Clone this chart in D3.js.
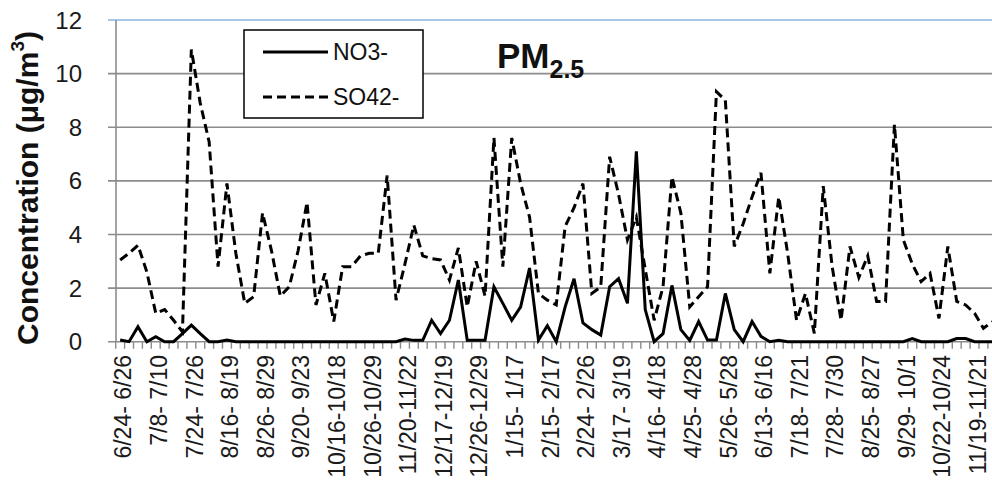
<!DOCTYPE html>
<html>
<head>
<meta charset="utf-8">
<script src="https://cdn.jsdelivr.net/npm/d3@7"></script>
<style>
  body { margin: 0; background: #fff; }
  svg { display: block; font-family: "Liberation Sans", Arial, sans-serif; }
</style>
</head>
<body>
<svg id="chart" width="992" height="488"></svg>
<script>
// category labels shown on the axis (every 4th sampling period)
const tickLabels = ["6/24- 6/26", "7/8- 7/10", "7/24- 7/26", "8/16- 8/19", "8/26- 8/29",
  "9/20- 9/23", "10/16-10/18", "10/26-10/29", "11/20-11/22", "12/17-12/19",
  "12/26-12/29", "1/15- 1/17", "2/15- 2/17", "2/24- 2/26", "3/17- 3/19",
  "4/16- 4/18", "4/25- 4/28", "5/26- 5/28", "6/13- 6/16", "7/18- 7/21",
  "7/28- 7/30", "8/25- 8/27", "9/29- 10/1", "10/22-10/24", "11/19-11/21"];
const labelEvery = 4;

// NO3- concentration per sampling period
const no3 = [0.06, 0, 0.56, 0, 0.19, 0, 0, 0.3, 0.62, 0.3,
  0, 0, 0.06, 0, 0, 0, 0, 0, 0, 0,
  0, 0, 0, 0, 0, 0, 0, 0, 0, 0,
  0, 0, 0.1, 0.05, 0.05, 0.8, 0.3, 0.8, 2.3, 0.05,
  0.05, 0.05, 2.05, 1.43, 0.8, 1.3, 2.75, 0.06, 0.6, 0,
  1.3, 2.35, 0.7, 0.45, 0.25, 2.05, 2.35, 1.43, 7.1, 1.2,
  0, 0.3, 2.1, 0.45, 0.05, 0.75, 0.06, 0.06, 1.8, 0.45,
  0, 0.75, 0.2, 0, 0.05, 0, 0, 0, 0, 0,
  0, 0, 0, 0, 0, 0, 0, 0, 0, 0.12,
  0, 0, 0, 0, 0.12, 0.12, 0, 0, 0];

// SO42- concentration per sampling period
const so4 = [3.05, 3.3, 3.6, 2.6, 1.06, 1.2, 0.8, 0.37, 10.9, 8.9,
  7.45, 2.8, 5.9, 3.3, 1.43, 1.68, 4.8, 3.4, 1.7, 2.05,
  3.4, 5.2, 1.37, 2.55, 0.75, 2.8, 2.8, 3.2, 3.3, 3.3,
  6.2, 1.55, 2.9, 4.35, 3.2, 3.1, 3.05, 2.3, 3.5, 1.3,
  3.0, 1.7, 7.6, 2.8, 7.6, 5.9, 4.65, 1.8, 1.55, 1.37,
  4.3, 5.0, 5.9, 1.8, 2.05, 6.9, 5.5, 3.8, 4.65, 2.7,
  0.8, 2.05, 6.15, 4.8, 1.3, 1.68, 2.05, 9.33, 9.0, 3.55,
  4.4, 5.4, 6.3, 2.55, 5.4, 3.3, 0.8, 1.8, 0.31, 5.8,
  2.8, 0.8, 3.55, 2.4, 3.2, 1.5, 1.5, 8.1, 3.8, 2.9,
  2.24, 2.55, 0.87, 3.55, 1.5, 1.37, 1.06, 0.5, 0.75];

const yTicks = [0, 2, 4, 6, 8, 10, 12];
const seriesNames = ["NO3-", "SO42-"];

const svg = d3.select("#chart");
const cats = d3.range(so4.length);

// plot runs past the right edge of the picture (the original is cropped)
const x = d3.scaleBand().domain(cats).range([115.7, 115.7 + 8.9 * cats.length]).padding(0);
const y = d3.scaleLinear().domain([0, 12]).range([341.7, 20]);
const cx = i => x(i) + x.bandwidth() / 2;

const grid = "#8c8c8c";

//gridlines
svg.append("g")
  .selectAll("line")
  .data(yTicks)
  .join("line")
  .attr("x1", 108).attr("x2", 992)
  .attr("y1", d => y(d)).attr("y2", d => y(d))
  .attr("stroke", d => d === 12 ? "#8db3e2" : grid)
  .attr("stroke-width", 1.6);

//y axis line
svg.append("line")
  .attr("x1", 116).attr("x2", 116)
  .attr("y1", y(12)).attr("y2", y(0))
  .attr("stroke", grid).attr("stroke-width", 1.6);

//y tick labels
svg.append("g")
  .selectAll("text")
  .data(yTicks)
  .join("text")
  .attr("x", 82)
  .attr("y", d => y(d))
  .attr("dy", "0.36em")
  .attr("text-anchor", "end")
  .attr("font-size", 24)
  .attr("fill", "#1a1a1a")
  .text(d => d);

//x tick marks at category boundaries
svg.append("g")
  .selectAll("line")
  .data(cats)
  .join("line")
  .attr("x1", d => x(d)).attr("x2", d => x(d))
  .attr("y1", y(0)).attr("y2", y(0) + 7)
  .attr("stroke", grid).attr("stroke-width", 1.4);

//x labels
svg.append("g")
  .selectAll("text")
  .data(tickLabels)
  .join("text")
  .attr("transform", (d, k) => `translate(${cx(k * labelEvery) + 3},355) rotate(-90)`)
  .attr("dy", "0.36em")
  .attr("text-anchor", "end")
  .attr("font-size", 23)
  .attr("fill", "#1a1a1a")
  .text(d => d);

//y axis title
const yt = svg.append("text")
  .attr("transform", "translate(27,188) rotate(-90)")
  .attr("dy", "0.36em")
  .attr("text-anchor", "middle")
  .attr("font-size", 30)
  .attr("font-weight", "bold")
  .attr("fill", "#111")
  .text("Concentration (\u03bcg/m");
yt.append("tspan").attr("font-size", 19).attr("dy", "-0.75em").text("3");
yt.append("tspan").attr("dy", "0.45em").text(")");

//series lines
const line = d3.line().x((d, i) => cx(i)).y(d => y(d));

svg.append("path")
  .datum(so4)
  .attr("d", line)
  .attr("fill", "none")
  .attr("stroke", "#000")
  .attr("stroke-width", 3)
  .attr("stroke-dasharray", "9,5");

svg.append("path")
  .datum(no3)
  .attr("d", line)
  .attr("fill", "none")
  .attr("stroke", "#000")
  .attr("stroke-width", 3);

//legend
const lg = svg.append("g");
lg.append("rect")
  .attr("x", 244).attr("y", 30).attr("width", 179).attr("height", 88)
  .attr("fill", "#fff").attr("stroke", "#000").attr("stroke-width", 1.5);
lg.selectAll("line")
  .data(seriesNames)
  .join("line")
  .attr("x1", 263).attr("x2", 328)
  .attr("y1", (d, k) => 52 + k * 45).attr("y2", (d, k) => 52 + k * 45)
  .attr("stroke", "#000").attr("stroke-width", 3)
  .attr("stroke-dasharray", (d, k) => k ? "9,5" : null);
lg.selectAll("text")
  .data(seriesNames)
  .join("text")
  .attr("x", 333)
  .attr("y", (d, k) => 52 + k * 45)
  .attr("dy", "0.36em")
  .attr("font-size", 23)
  .attr("fill", "#111")
  .text(d => d);

//title
const title = svg.append("text")
  .attr("x", 497).attr("y", 68)
  .attr("font-size", 35)
  .attr("font-weight", "bold")
  .attr("fill", "#111")
  .text("PM");
title.append("tspan").attr("font-size", 25).attr("dy", 10).text("2.5");
</script>
</body>
</html>
